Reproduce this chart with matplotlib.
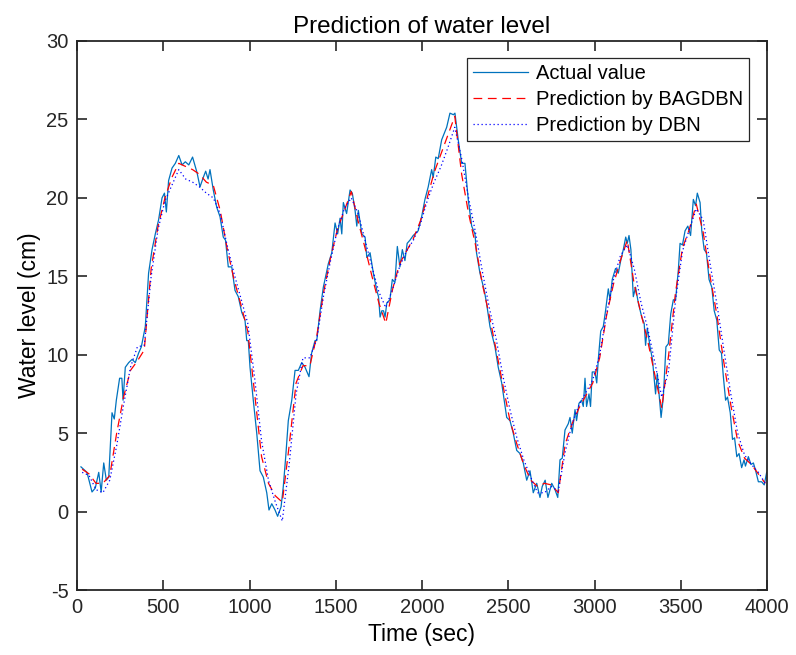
import numpy as np
import matplotlib
matplotlib.use('Agg')
import matplotlib.pyplot as plt

plt.rcParams['font.family'] = ['Liberation Sans', 'DejaVu Sans']
plt.rcParams['axes.unicode_minus'] = False

# Actual value
t_actual = [23, 58, 87, 106, 126, 140, 155, 170, 184, 203, 216, 228, 247, 260, 267, 280, 300, 319, 338, 357,
            373, 396, 415, 435, 454, 473, 493, 507, 518, 531, 551, 570, 590, 609, 628, 648, 670, 696, 713, 732,
            746, 760, 771, 790, 810, 829, 848, 861, 877, 897, 916, 935, 955, 974, 984, 993, 1003, 1022, 1042, 1061,
            1080, 1100, 1113, 1129, 1148, 1163, 1183, 1196, 1210, 1225, 1245, 1264, 1283, 1303, 1322, 1345, 1360, 1380, 1390, 1409,
            1428, 1457, 1477, 1496, 1511, 1525, 1535, 1544, 1563, 1583, 1596, 1612, 1622, 1631, 1651, 1670, 1680, 1699, 1718, 1738,
            1748, 1757, 1767, 1777, 1786, 1796, 1814, 1828, 1843, 1857, 1872, 1886, 1901, 1914, 1930, 1949, 1978, 1998, 2017, 2036,
            2056, 2065, 2080, 2094, 2114, 2143, 2162, 2182, 2191, 2210, 2230, 2249, 2268, 2288, 2307, 2316, 2336, 2361, 2374, 2394,
            2423, 2442, 2462, 2491, 2510, 2529, 2549, 2568, 2587, 2607, 2626, 2645, 2665, 2684, 2697, 2714, 2730, 2752, 2771, 2787,
            2800, 2813, 2829, 2848, 2858, 2871, 2887, 2896, 2910, 2925, 2935, 2945, 2954, 2968, 2977, 2987, 3003, 3013, 3022, 3036,
            3051, 3064, 3080, 3090, 3103, 3122, 3138, 3152, 3167, 3181, 3190, 3200, 3211, 3225, 3238, 3254, 3274, 3288, 3296, 3306,
            3322, 3336, 3354, 3364, 3374, 3386, 3399, 3414, 3428, 3442, 3457, 3470, 3486, 3496, 3510, 3525, 3541, 3557, 3573, 3586,
            3596, 3612, 3622, 3636, 3649, 3664, 3680, 3694, 3709, 3723, 3736, 3747, 3760, 3771, 3787, 3800, 3812, 3825, 3838, 3853,
            3867, 3875, 3892, 3907, 3921, 3932, 3950, 3969, 3984, 3998]
actual = [2.85, 2.5, 1.25, 1.5, 2.5, 1.25, 3.1, 2.0, 2.2, 6.3, 5.9, 7.1, 8.5, 8.5, 7.1, 9.2, 9.5, 9.7, 9.5, 10.1,
          10.5, 11.8, 15.2, 16.7, 17.7, 18.6, 20.0, 20.3, 19.1, 21.1, 21.9, 22.2, 22.7, 22.1, 22.3, 22.1, 22.6, 21.6, 20.7, 21.3,
          21.7, 21.2, 21.8, 20.5, 19.4, 18.8, 17.5, 17.3, 15.6, 15.6, 14.1, 13.7, 12.7, 12.2, 10.9, 10.9, 9.2, 7.1, 5.0, 2.6,
          2.2, 1.2, 0.1, 0.5, 0.1, -0.3, 0.3, 1.6, 3.5, 5.8, 7.1, 9.0, 9.0, 9.5, 9.2, 8.6, 10.1, 10.9, 10.9, 12.8,
          14.3, 15.8, 16.5, 18.4, 17.7, 18.7, 17.7, 19.7, 19.0, 20.5, 20.3, 19.2, 18.2, 19.2, 17.7, 17.5, 16.2, 16.5, 15.2, 14.1,
          13.7, 12.4, 12.8, 12.8, 12.4, 13.3, 13.5, 14.8, 14.6, 16.9, 15.6, 16.7, 16.0, 17.1, 17.3, 17.6, 17.9, 18.8, 19.9, 20.7,
          21.8, 21.3, 22.6, 22.5, 23.7, 24.5, 25.4, 25.3, 25.4, 23.7, 22.2, 22.2, 19.9, 18.2, 17.7, 16.5, 15.2, 14.1, 13.3, 11.8,
          10.5, 9.2, 8.2, 6.0, 5.8, 5.0, 3.9, 3.7, 3.1, 2.0, 2.6, 1.2, 1.8, 0.9, 1.6, 2.0, 0.9, 1.8, 1.4, 0.9,
          3.3, 3.4, 5.2, 5.6, 6.0, 5.0, 6.5, 5.8, 6.9, 7.1, 6.7, 8.5, 6.7, 7.5, 6.7, 8.9, 8.9, 8.2, 9.7, 11.5,
          11.8, 12.8, 14.2, 13.5, 14.8, 15.5, 15.2, 16.0, 16.7, 17.5, 17.1, 17.6, 16.7, 13.7, 14.3, 13.3, 12.4, 12.0, 10.6, 11.7,
          10.5, 9.7, 7.5, 8.8, 7.5, 6.0, 7.3, 10.5, 10.7, 12.6, 13.5, 13.5, 15.4, 17.1, 17.0, 17.9, 18.2, 17.6, 19.9, 19.5,
          20.3, 19.7, 17.9, 16.7, 16.5, 14.8, 14.3, 12.8, 12.2, 10.3, 10.1, 8.6, 7.1, 7.3, 6.3, 4.6, 4.7, 3.5, 3.7, 2.8,
          3.3, 2.9, 3.5, 3.0, 3.1, 2.7, 1.9, 1.9, 1.7, 2.5]

# Predictions
t_pred = [30, 70, 110, 150, 190, 230, 270, 310, 350, 390, 430, 470, 510, 550, 590, 630, 670, 710, 750, 790,
          830, 870, 910, 950, 990, 1030, 1070, 1110, 1150, 1190, 1230, 1270, 1310, 1350, 1390, 1430, 1470, 1510, 1550, 1590,
          1630, 1670, 1710, 1750, 1790, 1830, 1870, 1910, 1950, 1990, 2030, 2070, 2110, 2150, 2190, 2230, 2270, 2310, 2350, 2390,
          2430, 2470, 2510, 2550, 2590, 2630, 2670, 2710, 2750, 2790, 2830, 2870, 2910, 2950, 2990, 3030, 3070, 3110, 3150, 3190,
          3230, 3270, 3310, 3350, 3390, 3430, 3470, 3510, 3550, 3590, 3630, 3670, 3710, 3750, 3790, 3830, 3870, 3910, 3950, 3990]
pred_bagdbn = [2.7, 2.4, 1.8, 1.8, 2.3, 5.0, 7.3, 9.0, 9.6, 10.3, 15.5, 18.2, 20.0, 21.3, 22.2, 22.0, 21.8, 21.5, 21.0, 20.8,
               19.2, 16.8, 14.8, 13.2, 11.5, 7.5, 3.5, 1.8, 1.0, 0.6, 4.2, 8.2, 9.3, 9.3, 11.2, 14.0, 16.2, 18.0, 19.2, 20.4,
               18.5, 16.8, 15.0, 13.3, 12.0, 14.2, 15.8, 16.6, 17.4, 18.5, 20.0, 21.6, 22.8, 24.0, 25.2, 21.5, 19.0, 17.0, 14.5, 12.5,
               10.3, 8.0, 5.8, 4.3, 3.0, 2.0, 1.6, 1.8, 1.7, 1.2, 4.3, 5.6, 6.6, 7.4, 8.2, 9.8, 12.5, 14.5, 16.0, 17.3,
               14.5, 12.6, 10.8, 8.7, 6.6, 10.0, 14.0, 16.8, 18.0, 19.6, 17.8, 15.0, 12.5, 9.5, 6.8, 4.5, 3.4, 3.0, 2.4, 1.8]
pred_dbn = [2.5, 2.3, 1.4, 1.2, 2.0, 4.2, 6.8, 9.2, 10.5, 10.6, 15.0, 18.0, 19.8, 20.8, 21.8, 21.2, 21.0, 20.7, 20.3, 20.0,
            19.0, 17.0, 15.2, 13.6, 12.0, 8.5, 4.5, 2.0, 0.6, -0.6, 3.0, 7.5, 9.8, 9.8, 11.0, 13.8, 16.0, 18.0, 19.3, 20.0,
            19.0, 17.3, 15.6, 14.0, 13.0, 14.2, 15.6, 16.6, 17.3, 18.3, 19.8, 21.0, 22.0, 23.2, 24.5, 22.5, 20.0, 17.8, 15.3, 13.0,
            11.0, 8.6, 6.5, 4.7, 3.3, 2.2, 1.2, 1.2, 1.6, 1.3, 3.8, 5.6, 6.8, 7.6, 8.4, 10.0, 12.6, 14.8, 16.3, 17.0,
            15.5, 13.3, 11.6, 9.5, 7.3, 9.0, 13.5, 16.6, 18.0, 19.3, 18.6, 15.8, 13.2, 10.3, 7.5, 5.0, 3.6, 3.0, 2.5, 1.8]

fig = plt.figure(figsize=(7.96, 6.55), dpi=100)
ax = fig.add_axes([77/796, 1 - 590/655, 690/796, 549/655])

ax.plot(t_actual, actual, color='#0072BD', lw=0.9, label='Actual value')
ax.plot(t_pred, pred_bagdbn, color='r', ls=(0, (7, 4.5)), lw=0.9, label='Prediction by BAGDBN')
ax.plot(t_pred, pred_dbn, color='b', ls=(0, (1, 2.2)), lw=0.9, label='Prediction by DBN')

ax.set_xlim(0, 4000)
ax.set_ylim(-5, 30)
ax.set_xticks(np.arange(0, 4001, 500))
ax.set_yticks(np.arange(-5, 31, 5))
ax.tick_params(direction='in', length=7, width=1.2, top=True, right=True, labelsize=14.5, pad=6, colors='#262626')
for s in ax.spines.values():
    s.set_linewidth(1.3)
    s.set_color('#262626')

ax.set_title('Prediction of water level', fontsize=17.5, pad=6)
ax.set_xlabel('Time (sec)', fontsize=16.5, labelpad=4)
ax.set_ylabel('Water level (cm)', fontsize=16.5, labelpad=4)

leg = ax.legend(loc='upper right', bbox_to_anchor=(0.974, 0.969), borderaxespad=0, fontsize=14.5,
                fancybox=False, framealpha=1, edgecolor='#262626', handlelength=2.7, handletextpad=0.4,
                labelspacing=0.35, borderpad=0.3)
leg.get_frame().set_linewidth(0.9)

fig.savefig('out.png', dpi=100)
